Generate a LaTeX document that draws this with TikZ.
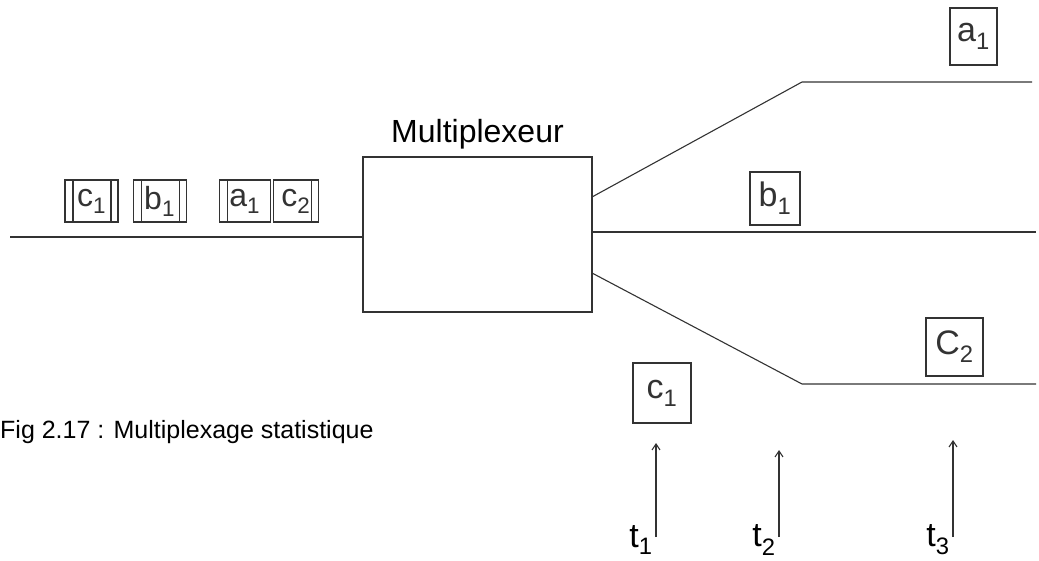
\documentclass[tikz,border=0pt]{standalone}
\usepackage{fontspec}
\setmainfont{Liberation Sans}
\usetikzlibrary{positioning,arrows.meta}

\begin{document}
\begin{tikzpicture}[x=1pt,y=-1pt,
    trait/.style={line width=1.1pt,black!80},
    paquet/.style={draw,trait,inner sep=0pt,minimum height=42pt,font=\fontsize{32}{34}\selectfont},
    boite/.style={draw,trait,inner sep=0pt,font=\fontsize{34}{36}\selectfont},
    barres/.style={path picture={
      \draw[trait] ([xshift=8pt]path picture bounding box.south west) -- ([xshift=8pt]path picture bounding box.north west);
      \draw[trait] ([xshift=-7pt]path picture bounding box.south east) -- ([xshift=-7pt]path picture bounding box.north east);}},
    barreg/.style={path picture={
      \draw[trait] ([xshift=8pt]path picture bounding box.south west) -- ([xshift=8pt]path picture bounding box.north west);}},
    barred/.style={path picture={
      \draw[trait] ([xshift=-7pt]path picture bounding box.south east) -- ([xshift=-7pt]path picture bounding box.north east);}}]
  \useasboundingbox (0,0) rectangle (1039,561);
  % Multiplexeur
  \node[draw,trait,minimum width=229pt,minimum height=155pt,inner sep=0pt] (mux) at (477.5,234.5) {};
  \node[above=5pt of mux,inner sep=2pt,font=\fontsize{32}{34}\selectfont] (titre) {Multiplexeur};
  % Ligne d'entree et paquets
  \coordinate (entree) at (10,237);
  \draw[trait] (entree) -- (entree -| mux.west);
  \node[paquet,barres,minimum width=53pt] (pc1) at (91.5,201) {c\textsubscript{1}};
  \node[paquet,barres,minimum width=53pt,right=14pt of pc1] (pb1) {b\textsubscript{1}};
  \node[paquet,barreg,minimum width=51pt,right=32pt of pb1] (pa1) {a\textsubscript{1}};
  \node[paquet,barred,minimum width=45pt,right=2pt of pa1] (pc2) {c\textsubscript{2}};
  % Lignes de sortie
  \coordinate (sa) at (592,197);
  \coordinate (ka) at (802,82);
  \coordinate (fa) at (1032,82);
  \coordinate (sb) at (592,232);
  \coordinate (fb) at (1036,232);
  \coordinate (sc) at (592,273);
  \coordinate (kc) at (802,384);
  \coordinate (fc) at (1036,384);
  \draw[trait] (sa) -- (ka) -- (fa);
  \draw[trait] (sb) -- (fb);
  \draw[trait] (sc) -- (kc) -- (fc);
  % Paquets en sortie
  \node[boite,minimum width=47pt,minimum height=57pt] (sa1) at (973.5,36.5) {a\textsubscript{1}};
  \node[boite,minimum width=50pt,minimum height=53pt] (sb1) at (775,198.5) {b\textsubscript{1}};
  \node[boite,minimum width=57pt,minimum height=58pt] (sc2) at (954.5,347) {C\textsubscript{2}};
  \node[boite,minimum width=58pt,minimum height=60pt] (sc1) at (662,393) {c\textsubscript{1}};
  % Instants t1, t2, t3
  \foreach \x/\h/\n in {656/443/1, 779/450/2, 953/440/3} {
    \coordinate (b\n) at (\x,537);
    \coordinate (h\n) at (\x,\h);
    \draw[trait,-{Straight Barb[length=6pt,width=8pt]}] (b\n) -- (h\n);
    \node[font=\fontsize{34}{36}\selectfont,inner sep=0pt] (t\n) at (\x-15,540) {t\textsubscript{\n}};
  }
  % Legende
  \node[anchor=west,inner sep=0pt,font=\fontsize{25}{27}\selectfont] (legende) at (0,432) {Fig 2.17 : Multiplexage statistique};
\end{tikzpicture}
\end{document}
